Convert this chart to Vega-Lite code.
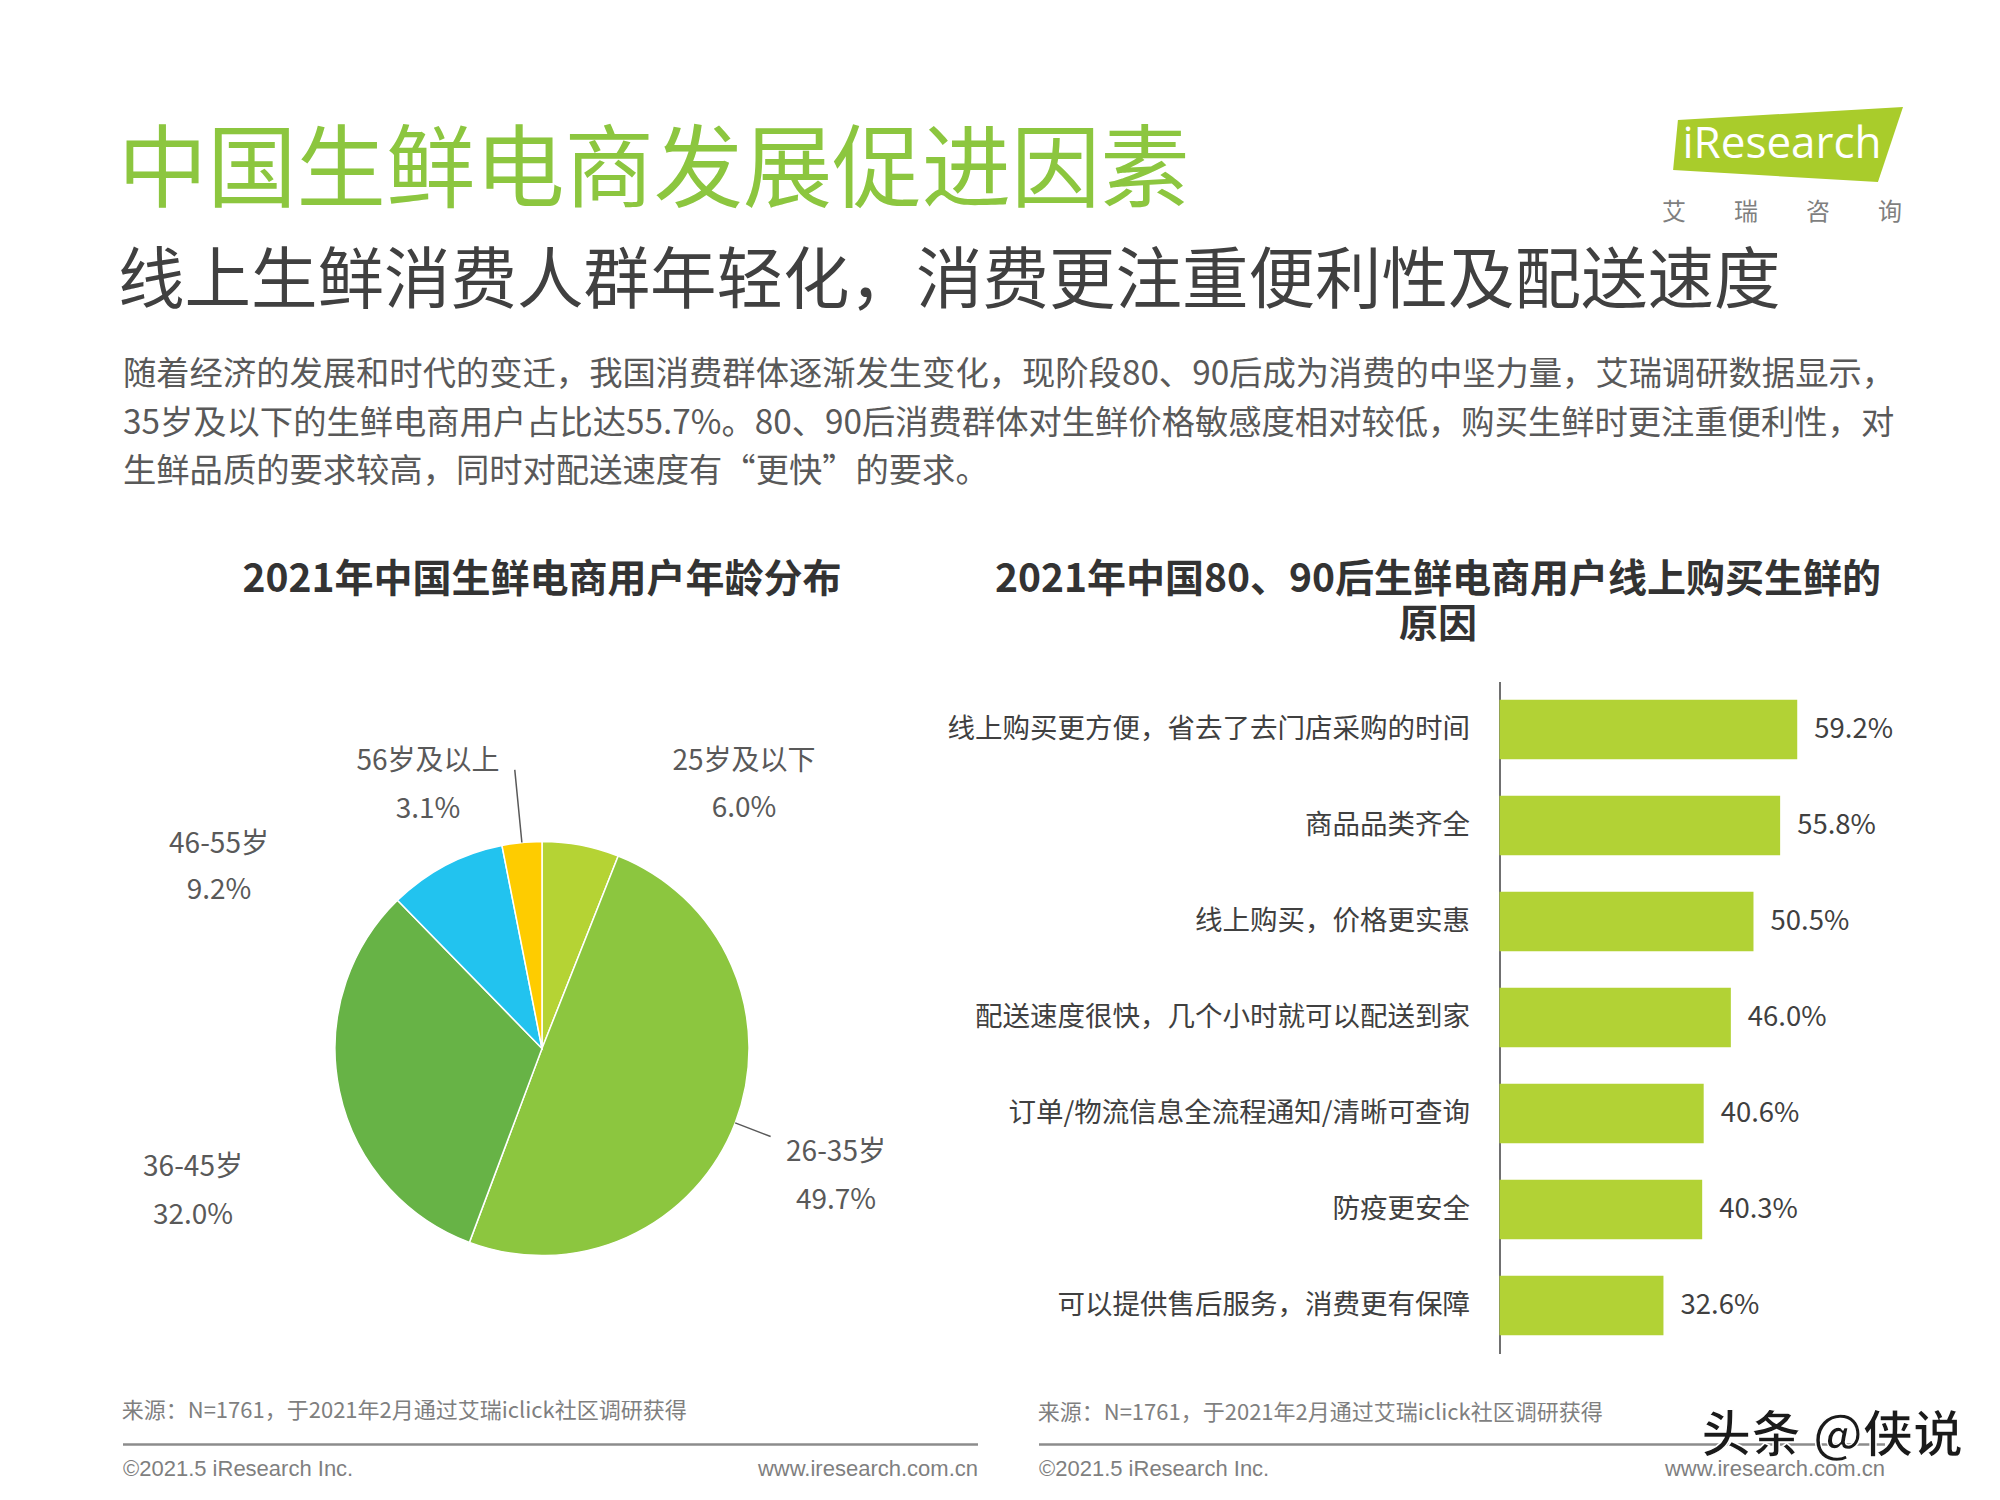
{
  "$schema": "https://vega.github.io/schema/vega-lite/v6.json",
  "background": "#ffffff",
  "padding": {"left": 118, "top": 107, "right": 10, "bottom": 5},
  "config": {"view": {"stroke": null}, "font": "Noto Sans CJK SC", "axis": {"grid": false}},
  "spacing": 63.5,
  "vconcat": [
    {
      "spacing": 34,
      "vconcat": [
        {
          "bounds": "flush",
          "spacing": 38,
          "hconcat": [
            {
              "width": 1500,
              "height": 1,
              "title": {
                "text": "中国生鲜电商发展促进因素",
                "subtitle": "线上生鲜消费人群年轻化，消费更注重便利性及配送速度",
                "orient": "bottom",
                "anchor": "start",
                "offset": 21,
                "dx": -5,
                "font": "Noto Sans CJK SC",
                "fontSize": 89.3,
                "fontWeight": "normal",
                "color": "#8cc63f",
                "subtitleFont": "Noto Sans CJK SC",
                "subtitleFontSize": 66.5,
                "subtitleColor": "#404040",
                "subtitlePadding": 32
              },
              "data": {"values": []},
              "mark": "point"
            },
            {
              "width": 242,
              "height": 144,
              "data": {"values": [
                {"part": "logo", "label": "iResearch"},
                {"part": "name", "label": "艾　　瑞　　咨　　询"}
              ]},
              "encoding": {
                "y": {"field": "part", "type": "nominal", "axis": null,
                      "scale": {"type": "point", "domain": ["logo", "name"], "padding": 0.559}}
              },
              "layer": [
                {
                  "transform": [{"filter": "datum.part === 'logo'"}],
                  "mark": {"type": "point", "shape": "M -0.86 -0.207 L 1 -0.314 L 0.793 0.306 L -0.9 0.207 Z",
                           "size": 58564, "filled": true, "color": "#a9cc2b", "opacity": 1, "strokeWidth": 0}
                },
                {
                  "transform": [{"filter": "datum.part === 'logo'"}],
                  "mark": {"type": "text", "font": "Open Sans", "fontSize": 44, "color": "#ffffff", "baseline": "middle"},
                  "encoding": {"text": {"field": "label"}}
                },
                {
                  "transform": [{"filter": "datum.part === 'name'"}],
                  "mark": {"type": "text", "fontSize": 24, "color": "#7f7f7f", "baseline": "middle"},
                  "encoding": {"text": {"field": "label"}}
                }
              ]
            }
          ]
        },
        {
          "width": 1777,
          "height": 145.5,
          "data": {"values": [
            {"line": 1, "text": "随着经济的发展和时代的变迁，我国消费群体逐渐发生变化，现阶段80、90后成为消费的中坚力量，艾瑞调研数据显示，"},
            {"line": 2, "text": "35岁及以下的生鲜电商用户占比达55.7%。80、90后消费群体对生鲜价格敏感度相对较低，购买生鲜时更注重便利性，对"},
            {"line": 3, "text": "生鲜品质的要求较高，同时对配送速度有“更快”的要求。"}
          ]},
          "mark": {"type": "text", "align": "left", "baseline": "middle", "fontSize": 33.3, "color": "#595959"},
          "encoding": {
            "x": {"value": 0},
            "y": {"field": "line", "type": "ordinal", "axis": null, "scale": {"type": "point", "padding": 0.5}},
            "text": {"field": "text"}
          }
        }
      ]
    },
    {
      "spacing": -16,
      "vconcat": [
        {
          "spacing": -14.5,
          "hconcat": [
            {
              "width": 838,
              "height": 734,
              "title": {"text": "2021年中国生鲜电商用户年龄分布", "fontSize": 39, "fontWeight": "bold",
                        "color": "#333333", "offset": 82, "anchor": "middle"},
              "data": {"values": [
                {"age": "25岁及以下", "share": 0.06},
                {"age": "26-35岁", "share": 0.497},
                {"age": "36-45岁", "share": 0.32},
                {"age": "46-55岁", "share": 0.092},
                {"age": "56岁及以上", "share": 0.031}
              ]},
              "layer": [
                {
                  "mark": {"type": "arc", "outerRadius": 207, "stroke": "#ffffff", "strokeWidth": 1.5},
                  "encoding": {
                    "theta": {"field": "share", "type": "quantitative", "stack": true},
                    "order": {"field": "age", "type": "ordinal", "sort": "ascending"},
                    "color": {"field": "age", "type": "nominal", "legend": null,
                              "scale": {"domain": ["25岁及以下", "26-35岁", "36-45岁", "46-55岁", "56岁及以上"],
                                        "range": ["#b5d334", "#8cc63f", "#67b346", "#22c3ef", "#fecc00"]}}
                  }
                },
                {
                  "transform": [
                    {"stack": "share", "groupby": [], "sort": [{"field": "age", "order": "ascending"}], "as": ["t0", "t1"]},
                    {"filter": "datum.age === '26-35岁'"}
                  ],
                  "mark": {"type": "arc", "radius": 245, "radius2": 207, "padAngle": 3, "filled": false,
                           "color": "#595959", "strokeWidth": 1.5},
                  "encoding": {
                    "theta": {"field": "t0", "type": "quantitative"},
                    "theta2": {"field": "t1"}
                  }
                },
                {
                  "transform": [
                    {"stack": "share", "groupby": [], "sort": [{"field": "age", "order": "ascending"}], "as": ["t0", "t1"]},
                    {"filter": "datum.age === '56岁及以上'"}
                  ],
                  "mark": {"type": "arc", "radius": 280, "radius2": 207, "padAngle": 3, "filled": false,
                           "color": "#595959", "strokeWidth": 1.5},
                  "encoding": {
                    "theta": {"field": "t0", "type": "quantitative"},
                    "theta2": {"field": "t1"}
                  }
                },
                {
                  "transform": [{"filter": "datum.age === '25岁及以下'"}],
                  "layer": [
                    {"mark": {"type": "text", "fontSize": 28, "color": "#595959", "dx": 202, "dy": -287},
                     "encoding": {"text": {"field": "age"}}},
                    {"mark": {"type": "text", "fontSize": 28, "color": "#595959", "dx": 202, "dy": -240},
                     "encoding": {"text": {"field": "share", "type": "quantitative", "format": ".1%"}}}
                  ]
                },
                {
                  "transform": [{"filter": "datum.age === '26-35岁'"}],
                  "layer": [
                    {"mark": {"type": "text", "fontSize": 28, "color": "#595959", "dx": 294, "dy": 104},
                     "encoding": {"text": {"field": "age"}}},
                    {"mark": {"type": "text", "fontSize": 28, "color": "#595959", "dx": 294, "dy": 152},
                     "encoding": {"text": {"field": "share", "type": "quantitative", "format": ".1%"}}}
                  ]
                },
                {
                  "transform": [{"filter": "datum.age === '36-45岁'"}],
                  "layer": [
                    {"mark": {"type": "text", "fontSize": 28, "color": "#595959", "dx": -349, "dy": 119},
                     "encoding": {"text": {"field": "age"}}},
                    {"mark": {"type": "text", "fontSize": 28, "color": "#595959", "dx": -349, "dy": 167},
                     "encoding": {"text": {"field": "share", "type": "quantitative", "format": ".1%"}}}
                  ]
                },
                {
                  "transform": [{"filter": "datum.age === '46-55岁'"}],
                  "layer": [
                    {"mark": {"type": "text", "fontSize": 28, "color": "#595959", "dx": -323, "dy": -204},
                     "encoding": {"text": {"field": "age"}}},
                    {"mark": {"type": "text", "fontSize": 28, "color": "#595959", "dx": -323, "dy": -158},
                     "encoding": {"text": {"field": "share", "type": "quantitative", "format": ".1%"}}}
                  ]
                },
                {
                  "transform": [{"filter": "datum.age === '56岁及以上'"}],
                  "layer": [
                    {"mark": {"type": "text", "fontSize": 28, "color": "#595959", "dx": -114, "dy": -287},
                     "encoding": {"text": {"field": "age"}}},
                    {"mark": {"type": "text", "fontSize": 28, "color": "#595959", "dx": -114, "dy": -239},
                     "encoding": {"text": {"field": "share", "type": "quantitative", "format": ".1%"}}}
                  ]
                }
              ]
            },
            {
              "width": 429,
              "height": 672,
              "title": {"text": ["2021年中国80、90后生鲜电商用户线上购买生鲜的", "原因"], "fontSize": 39,
                        "fontWeight": "bold", "color": "#333333", "lineHeight": 45, "offset": 37, "anchor": "middle", "dx": -276},
              "data": {"values": [
                {"reason": "线上购买更方便，省去了去门店采购的时间", "share": 0.592},
                {"reason": "商品品类齐全", "share": 0.558},
                {"reason": "线上购买，价格更实惠", "share": 0.505},
                {"reason": "配送速度很快，几个小时就可以配送到家", "share": 0.46},
                {"reason": "订单/物流信息全流程通知/清晰可查询", "share": 0.406},
                {"reason": "防疫更安全", "share": 0.403},
                {"reason": "可以提供售后服务，消费更有保障", "share": 0.326}
              ]},
              "encoding": {
                "y": {"field": "reason", "type": "nominal", "sort": "-x",
                      "scale": {"paddingInner": 0.38, "paddingOuter": 0.19},
                      "axis": {"title": null, "ticks": false, "labelFontSize": 27.5, "labelColor": "#404040",
                               "labelPadding": 30, "labelLimit": 0, "domainColor": "#404040", "domainWidth": 1.5}},
                "x": {"field": "share", "type": "quantitative", "scale": {"domain": [0, 0.853]}, "axis": null}
              },
              "layer": [
                {"mark": {"type": "bar", "color": "#b2d235"}},
                {"mark": {"type": "text", "align": "left", "baseline": "middle", "dx": 17, "fontSize": 27.5, "color": "#404040"},
                 "encoding": {"text": {"field": "share", "type": "quantitative", "format": ".1%"}}}
              ]
            }
          ]
        },
        {
          "spacing": 57,
          "hconcat": [
            {
              "width": 855,
              "height": 48,
              "title": {"text": "来源：N=1761，于2021年2月通过艾瑞iclick社区调研获得", "anchor": "start",
                        "fontSize": 22, "fontWeight": "normal", "color": "#7f7f7f", "offset": 20},
              "data": {"values": [{"copyright": "©2021.5 iResearch Inc.", "site": "www.iresearch.com.cn"}]},
              "layer": [
                {"mark": {"type": "rule", "color": "#8c8c8c", "strokeWidth": 2.5}, "encoding": {"y": {"value": 0}}},
                {"mark": {"type": "text", "align": "left", "baseline": "middle", "font": "Liberation Sans", "fontSize": 22, "color": "#7f7f7f"},
                 "encoding": {"x": {"value": 0}, "text": {"field": "copyright"}}},
                {"mark": {"type": "text", "align": "right", "baseline": "middle", "font": "Liberation Sans", "fontSize": 22, "color": "#7f7f7f"},
                 "encoding": {"x": {"value": "width"}, "text": {"field": "site"}}}
              ]
            },
            {
              "width": 846,
              "height": 48,
              "title": {"text": "来源：N=1761，于2021年2月通过艾瑞iclick社区调研获得", "anchor": "start",
                        "fontSize": 22, "fontWeight": "normal", "color": "#7f7f7f", "offset": -13},
              "data": {"values": [{"copyright": "©2021.5 iResearch Inc.", "site": "www.iresearch.com.cn", "watermark": "头条 @侠说"}]},
              "layer": [
                {"mark": {"type": "rule", "color": "#8c8c8c", "strokeWidth": 2.5}, "encoding": {"y": {"value": 0}}},
                {"mark": {"type": "text", "align": "left", "baseline": "middle", "font": "Liberation Sans", "fontSize": 22, "color": "#7f7f7f"},
                 "encoding": {"x": {"value": 0}, "text": {"field": "copyright"}}},
                {"mark": {"type": "text", "align": "right", "baseline": "middle", "font": "Liberation Sans", "fontSize": 22, "color": "#7f7f7f"},
                 "encoding": {"x": {"value": "width"}, "text": {"field": "site"}}},
                {"mark": {"type": "text", "align": "right", "baseline": "middle", "dx": 78, "dy": -8, "fontSize": 50, "fontWeight": "bold",
                          "color": "#1a1a1a", "stroke": "#ffffff", "strokeWidth": 1.5},
                 "encoding": {"x": {"value": "width"}, "y": {"value": 0}, "text": {"field": "watermark"}}}
              ]
            }
          ]
        }
      ]
    }
  ]
}
